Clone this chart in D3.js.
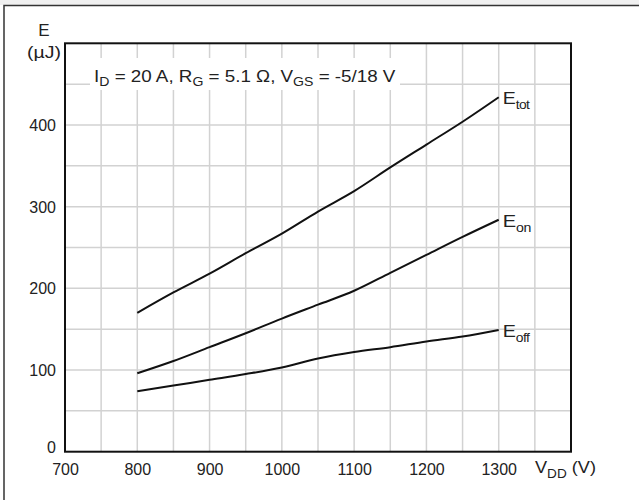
<!DOCTYPE html>
<html>
<head>
<meta charset="utf-8">
<script src="https://cdn.jsdelivr.net/npm/d3@7"></script>
<style>
    body { margin: 0; background: #fff; }
    svg { display: block; font-family: "Liberation Sans", Arial, sans-serif; }
</style>
</head>
<body>
<svg width="639" height="500"></svg>
<script>
// drain-source voltage, V
const vdd = [800, 850, 900, 950, 1000, 1050, 1100, 1150, 1200, 1250, 1300];
// switching energies, µJ
const eTot = [170, 195, 218, 243, 267, 294, 319, 348, 376, 404, 434];
const eOn = [96, 111, 128, 145, 163, 180, 197, 219, 241, 263, 284];
const eOff = [74, 81, 88, 95, 103, 114, 122, 128, 135, 141, 149];

const xTicks = [700, 800, 900, 1000, 1100, 1200, 1300];
const yTicks = [0, 100, 200, 300, 400];
const xGrid = d3.range(750, 1400, 50);
const yGrid = d3.range(50, 500, 50);

const series = [
    {name: "tot", values: eTot},
    {name: "on", values: eOn},
    {name: "off", values: eOff},
];

const svg = d3.select("svg");

const x = d3.scaleLinear().domain([700, 1400]).range([65, 571]);
const y = d3.scaleLinear().domain([0, 500]).range([451.7, 43.3]);

// the source text is a bit wider than the font, so stretch a text block to a width
function stretch(g, width) {
    let w = g.node().getBBox().width;
    let t = g.attr("data-t");
    g.attr("transform", `${t} scale(${width / w},1)`);
}

function block(tx, ty) {
    return svg.append("g")
        .attr("data-t", `translate(${tx},${ty})`)
        .attr("transform", `translate(${tx},${ty})`);
}

// outer frame of the figure
svg.append("rect")
    .attr("x", 0).attr("y", 0)
    .attr("width", 639).attr("height", 5)
    .attr("fill", "#f0f0f0");
svg.append("path")
    .attr("d", "M4,500V5.5H639")
    .attr("fill", "none")
    .attr("stroke", "#333")
    .attr("stroke-width", 1.5);

// grid
const grid = svg.append("g")
    .attr("stroke", "#d2d2d2")
    .attr("stroke-width", 1.5);

grid.selectAll("line.v")
    .data(xGrid)
    .enter().append("line")
    .attr("class", "v")
    .attr("x1", d => x(d)).attr("x2", d => x(d))
    .attr("y1", y(0)).attr("y2", y(500));

grid.selectAll("line.h")
    .data(yGrid)
    .enter().append("line")
    .attr("class", "h")
    .attr("x1", x(700)).attr("x2", x(1400))
    .attr("y1", d => y(d)).attr("y2", d => y(d));

// white box behind the conditions text
svg.append("rect")
    .attr("x", 90).attr("y", 58)
    .attr("width", 310).attr("height", 32)
    .attr("fill", "#fff");

const condG = block(94, 82);
const cond = condG.append("text")
    .attr("font-size", 16)
    .attr("fill", "#222");
cond.append("tspan").text("I");
cond.append("tspan").attr("font-size", 12).attr("dy", 4).text("D");
cond.append("tspan").attr("dy", -4).text(" = 20 A, R");
cond.append("tspan").attr("font-size", 12).attr("dy", 4).text("G");
cond.append("tspan").attr("dy", -4).text(" = 5.1 Ω, V");
cond.append("tspan").attr("font-size", 12).attr("dy", 4).text("GS");
cond.append("tspan").attr("dy", -4).text(" = -5/18 V");
stretch(condG, 302);

// plot frame
svg.append("rect")
    .attr("x", x(700)).attr("y", y(500))
    .attr("width", x(1400) - x(700))
    .attr("height", y(0) - y(500))
    .attr("fill", "none")
    .attr("stroke", "#111")
    .attr("stroke-width", 2);

// axes (labels only)
const xAxis = svg.append("g")
    .attr("transform", `translate(0,${y(0)})`)
    .call(d3.axisBottom(x).tickValues(xTicks).tickSize(0).tickPadding(0).tickFormat(d3.format("d")));
xAxis.select(".domain").remove();
xAxis.selectAll("text")
    .attr("y", 23).attr("dy", 0)
    .attr("font-size", 16)
    .attr("font-family", "Liberation Sans, Arial, sans-serif")
    .attr("fill", "#222");

const yAxis = svg.append("g")
    .attr("transform", `translate(${x(700)},0)`)
    .call(d3.axisLeft(y).tickValues(yTicks).tickSize(0).tickPadding(9).tickFormat(d3.format("d")));
yAxis.select(".domain").remove();
yAxis.selectAll("text")
    .attr("font-size", 16)
    .attr("font-family", "Liberation Sans, Arial, sans-serif")
    .attr("fill", "#222")
    .attr("dy", d => d === 0 ? "0.05em" : "0.35em");

// axis titles
svg.append("text")
    .attr("x", 44).attr("y", 36)
    .attr("text-anchor", "middle")
    .attr("font-size", 17)
    .attr("fill", "#222")
    .text("E");
const unitG = block(27, 58);
unitG.append("text")
    .attr("font-size", 16)
    .attr("fill", "#222")
    .text("(µJ)");
stretch(unitG, 34);

const xTitleG = block(535, 473);
const xTitle = xTitleG.append("text")
    .attr("font-size", 16)
    .attr("fill", "#222");
xTitle.append("tspan").text("V");
xTitle.append("tspan").attr("font-size", 12).attr("dy", 5).text("DD");
xTitle.append("tspan").attr("dy", -5).text(" (V)");
stretch(xTitleG, 61);

// curves
const line = d3.line()
    .x((d, i) => x(vdd[i]))
    .y(d => y(d))
    .curve(d3.curveMonotoneX);

svg.append("g")
    .selectAll("path")
    .data(series)
    .enter().append("path")
    .attr("d", d => line(d.values))
    .attr("fill", "none")
    .attr("stroke", "#111")
    .attr("stroke-width", 2);

// curve labels
series.forEach(s => {
    let g = block(x(vdd[vdd.length - 1]) + 4, y(s.values[s.values.length - 1]) + 7);
    let t = g.append("text")
        .attr("font-size", 17)
        .attr("fill", "#222");
    t.append("tspan").text("E");
    t.append("tspan")
        .attr("font-size", 12)
        .attr("dy", 5)
        .attr("letter-spacing", -0.5)
        .text(s.name);
    stretch(g, 28);
});
</script>
</body>
</html>
